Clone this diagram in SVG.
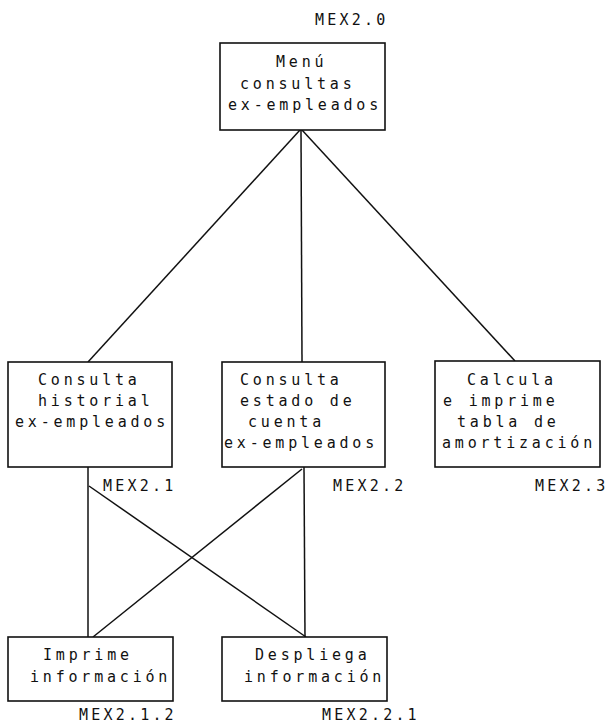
<svg xmlns="http://www.w3.org/2000/svg" width="608" height="726" viewBox="0 0 608 726">
  <style>
    .box { fill: #ffffff; stroke: #111111; stroke-width: 1.6; }
    .edge { stroke: #111111; stroke-width: 1.5; fill: none; }
    text { font-family: "DejaVu Sans Mono", "Liberation Mono", monospace; font-size: 15px; letter-spacing: 3.8px; fill: #111111; }
    .tag { letter-spacing: 3.2px; }
  </style>
  <rect width="608" height="726" fill="#ffffff"/>

  <!-- connectors -->
  <g id="connectors">
    <line class="edge" x1="300" y1="130" x2="88" y2="362"/>
    <line class="edge" x1="301" y1="130" x2="302" y2="362"/>
    <line class="edge" x1="302" y1="130" x2="515" y2="361"/>
    <line class="edge" x1="88" y1="467" x2="88" y2="637"/>
    <line class="edge" x1="89" y1="486" x2="306" y2="637"/>
    <line class="edge" x1="302" y1="469" x2="93" y2="637"/>
    <line class="edge" x1="304" y1="467" x2="305" y2="637"/>
  </g>

  <!-- MEX2.0 -->
  <g id="mex2-0">
    <text class="tag" x="315" y="25">MEX2.0</text>
    <rect class="box" x="220" y="43" width="165" height="87"/>
    <text x="276" y="67">Menú</text>
    <text x="240" y="89">consultas</text>
    <text x="228" y="110">ex-empleados</text>
  </g>

  <!-- MEX2.1 -->
  <g id="mex2-1">
    <rect class="box" x="8" y="362" width="164" height="105"/>
    <text x="38" y="385">Consulta</text>
    <text x="38" y="406">historial</text>
    <text x="15" y="427">ex-empleados</text>
    <text class="tag" x="103" y="491">MEX2.1</text>
  </g>

  <!-- MEX2.2 -->
  <g id="mex2-2">
    <rect class="box" x="222" y="362" width="163" height="105"/>
    <text x="240" y="385">Consulta</text>
    <text x="240" y="406">estado de</text>
    <text x="248" y="427">cuenta</text>
    <text x="224" y="448">ex-empleados</text>
    <text class="tag" x="333" y="491">MEX2.2</text>
  </g>

  <!-- MEX2.3 -->
  <g id="mex2-3">
    <rect class="box" x="435" y="361" width="165" height="106"/>
    <text x="467" y="385">Calcula</text>
    <text x="443" y="406">e imprime</text>
    <text x="457" y="427">tabla de</text>
    <text x="442" y="448">amortización</text>
    <text class="tag" x="535" y="491">MEX2.3</text>
  </g>

  <!-- MEX2.1.2 -->
  <g id="mex2-1-2">
    <rect class="box" x="8" y="637" width="165" height="64"/>
    <text x="43" y="660">Imprime</text>
    <text x="30" y="682">información</text>
    <text class="tag" x="79" y="720">MEX2.1.2</text>
  </g>

  <!-- MEX2.2.1 -->
  <g id="mex2-2-1">
    <rect class="box" x="222" y="637" width="165" height="64"/>
    <text x="255" y="660">Despliega</text>
    <text x="244" y="682">información</text>
    <text class="tag" x="322" y="720">MEX2.2.1</text>
  </g>
</svg>
